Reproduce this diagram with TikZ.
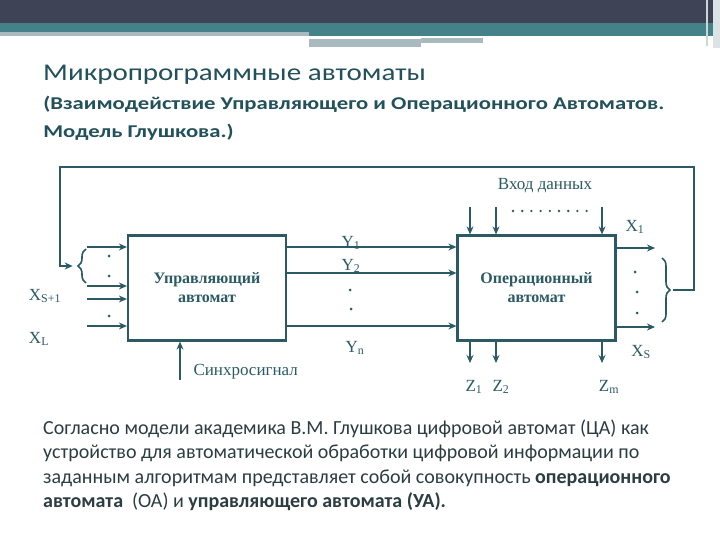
\documentclass[tikz,border=0pt]{standalone}
\usepackage{fontspec}
\setmainfont{Liberation Serif}
\newfontfamily\slidefont{Carlito}
\usetikzlibrary{arrows.meta,decorations.pathreplacing}
\definecolor{barDark}{HTML}{3E4455}
\definecolor{barTeal}{HTML}{458189}
\definecolor{barGrey}{HTML}{A8BABE}
\definecolor{lineCol}{HTML}{2B5A64}
\definecolor{headCol}{HTML}{22505B}
\definecolor{bodyCol}{HTML}{2C3D42}

\begin{document}
\begin{tikzpicture}[x=1pt,y=-1pt,
  wire/.style={draw=lineCol,line width=2.2pt},
  sig/.style={wire,-{Stealth[length=8pt,width=7pt]}},
  box/.style={wire,fill=white,inner sep=0pt,minimum width=158pt,minimum height=105pt,
    align=center,text=lineCol,font=\bfseries\fontsize{16}{19}\selectfont},
  lbl/.style={text=lineCol,font=\fontsize{17}{19}\selectfont},
  pt/.style={circle,fill=lineCol,inner sep=0pt,minimum size=3pt},
  brc/.style={draw=lineCol,line width=1.6pt,decorate,decoration={brace,amplitude=8pt}},
  slide/.style={anchor=base west,inner sep=0pt,font=\slidefont}]
  \useasboundingbox[fill=white] (0,0) rectangle (720,540);
  % slide header bars
  \fill[barDark] (0,0) rectangle (720,24);
  \fill[barTeal] (0,23) rectangle (720,33);
  \fill[barGrey] (0,32) rectangle (309,36);
  \fill[barTeal] (309,32) rectangle (720,36);
  \fill[barGrey] (309,39) rectangle (421,47);
  \fill[barGrey] (421,38) rectangle (483,43);
  \fill[barGrey!60] (706,0) rectangle (708,46);
  \fill[barGrey!40] (713,0) rectangle (720,48);
  % headings
  \node[slide,xscale=1.21,text=headCol,font=\slidefont\fontsize{24}{26}\selectfont] (title) at (43,81) {Микропрограммные автоматы};
  \node[slide,xscale=1.26,text=headCol,font=\slidefont\bfseries\fontsize{18}{20}\selectfont] (sub1) at (43,110) {(Взаимодействие Управляющего и Операционного Автоматов.};
  \node[slide,xscale=1.26,text=headCol,font=\slidefont\bfseries\fontsize{18}{20}\selectfont] (sub2) at (43,138) {Модель Глушкова.)};

  % the two automata
  \node[box] (ua) at (207,288) {Управляющий\\автомат};
  \node[box] (oa) at (536.5,288) {Операционный\\автомат};

  % control signals Y
  \foreach \y in {247,273,326}
    \draw[sig] (ua.east |- 0,\y) -- (oa.west |- 0,\y);
  \node[lbl] (y1) at (351,243) {Y\textsubscript{1}};
  \node[lbl] (y2) at (351,266) {Y\textsubscript{2}};
  \node[lbl] (yn) at (355,348) {Y\textsubscript{n}};
  \node[pt] (ydA) at (350,290) {};
  \node[pt] (ydB) at (351,309) {};

  % inputs of the control automaton
  \foreach \y in {247,286,299,326}{
    \coordinate (in\y) at (87,\y);
    \draw[sig] (in\y) -- (ua.west |- in\y);}
  \foreach \n/\y in {a/256,b/276,c/316}
    \node[pt] (ld\n) at (109,\y) {};
  \draw[brc] (86,283) -- node[midway,left=7pt,inner sep=0pt] (lbrTip) {} (86,249);
  \node[lbl] (xs1) at (45,296) {X\textsubscript{S+1}};
  \node[lbl] (xl) at (39,339) {X\textsubscript{L}};

  % clock
  \coordinate (clk) at (180,380);
  \draw[sig] (clk) -- (ua.south -| clk);
  \node[lbl,anchor=west] (sync) at (190,372) {Синхросигнал};

  % data inputs and outputs of the operational automaton
  \foreach \x in {470,496,602}{
    \coordinate (din\x) at (\x,207);
    \coordinate (zout\x) at (\x,363);
    \draw[sig] (din\x) -- (oa.north -| din\x);
    \draw[sig] (oa.south -| zout\x) -- (zout\x);}
  \draw[lineCol,line width=2.6pt,line cap=round,dash pattern=on 0pt off 9.2pt] (513,211) -- (588,211);
  \node[lbl] (din) at (545,186) {Вход данных};
  \node[lbl] (z1) at (474,387) {Z\textsubscript{1}};
  \node[lbl] (z2) at (501,387) {Z\textsubscript{2}};
  \node[lbl] (zm) at (609,387) {Z\textsubscript{m}};

  % logical conditions X
  \foreach \y in {248,327}{
    \coordinate (xo\y) at (655,\y);
    \draw[sig] (oa.east |- xo\y) -- (xo\y);}
  \node[lbl] (x1) at (635,227) {X\textsubscript{1}};
  \node[lbl] (xs) at (641,352) {X\textsubscript{S}};
  \foreach \n/\x/\y in {a/635/272,b/637/292,c/637/313}
    \node[pt] (rd\n) at (\x,\y) {};
  \draw[brc] (662,258) -- node[midway,right=8pt,inner sep=0pt] (rbrTip) {} (662,322);

  % feedback X1..XS -> control automaton
  \coordinate (fbA) at (694,167);
  \coordinate (fbB) at (60,167);
  \draw[sig] (rbrTip) -| (fbA) -- (fbB) |- ([xshift=-5pt]lbrTip.center);

  % explanation
  \foreach \l/\y/\t in {1/434/{Согласно модели академика В.М. Глушкова цифровой автомат (ЦА) как},
      2/458/{устройство для автоматической обработки цифровой информации по},
      3/483/{заданным алгоритмам представляет собой совокупность \textbf{операционного}},
      4/507/{\textbf{автомата}\ \ (ОА) и \textbf{управляющего автомата (УА).}}}
    \node[slide,text=bodyCol,font=\slidefont\fontsize{20}{22}\selectfont] (par\l) at (43,\y) {\t};
\end{tikzpicture}
\end{document}
